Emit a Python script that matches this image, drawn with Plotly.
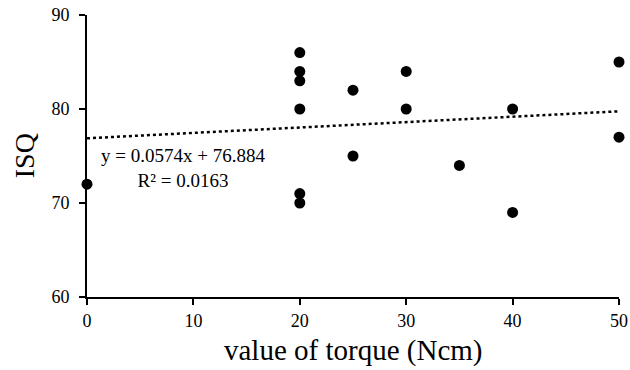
import plotly.graph_objects as go

torque = [0, 20, 20, 20, 20, 20, 20, 25, 25, 30, 30, 35, 40, 40, 50, 50]
isq = [72, 86, 84, 83, 80, 71, 70, 82, 75, 84, 80, 74, 80, 69, 85, 77]
slope = 0.0574
intercept = 76.884
r2 = 0.0163
x_ticks = [0, 10, 20, 30, 40, 50]
y_ticks = [60, 70, 80, 90]

font = "Liberation Serif, Times New Roman, serif"

trend_x = [min(torque), max(torque)]
trend_y = [slope * v + intercept for v in trend_x]

fig = go.Figure()
fig.add_trace(go.Scatter(x=trend_x, y=trend_y, mode="lines",
                         line=dict(color="black", width=2.5, dash="dot"),
                         hoverinfo="skip", cliponaxis=False))
fig.add_trace(go.Scatter(x=torque, y=isq, mode="markers",
                         marker=dict(color="black", size=11),
                         cliponaxis=False))

fig.add_annotation(x=9.0, y=73.7, xref="x", yref="y", showarrow=False,
                   text=f"y = {slope}x + {intercept}<br>R² = {r2}",
                   font=dict(family=font, size=19, color="black"), align="center")

fig.add_annotation(x=0.5, y=-0.191, xref="paper", yref="paper", showarrow=False,
                   text="value of torque (Ncm)", xanchor="center", yanchor="middle",
                   font=dict(family=font, size=29, color="black"))
fig.add_annotation(x=-0.118, y=0.5, xref="paper", yref="paper", showarrow=False,
                   text="ISQ", textangle=-90, xanchor="center", yanchor="middle",
                   font=dict(family=font, size=28, color="black"))

fig.update_layout(
    width=630, height=370,
    margin=dict(l=87, r=11, t=15, b=73, autoexpand=False),
    paper_bgcolor="white", plot_bgcolor="white",
    showlegend=False,
    font=dict(family=font, color="black"),
    xaxis=dict(range=[0, 50], tickvals=x_ticks, showgrid=False, zeroline=False,
               showline=True, linecolor="black", linewidth=2, automargin=False,
               ticks="outside", ticklen=6, tickwidth=1.5, tickcolor="black",
               tickfont=dict(size=18, family=font)),
    yaxis=dict(range=[60, 90], tickvals=y_ticks, showgrid=False, zeroline=False,
               showline=True, linecolor="black", linewidth=2, automargin=False,
               ticks="outside", ticklen=6, tickwidth=1.5, tickcolor="black",
               ticklabelstandoff=6,
               tickfont=dict(size=18, family=font)),
)

fig.write_html("out.html", config={"displayModeBar": False},
               post_script="document.body.style.margin='0';")
